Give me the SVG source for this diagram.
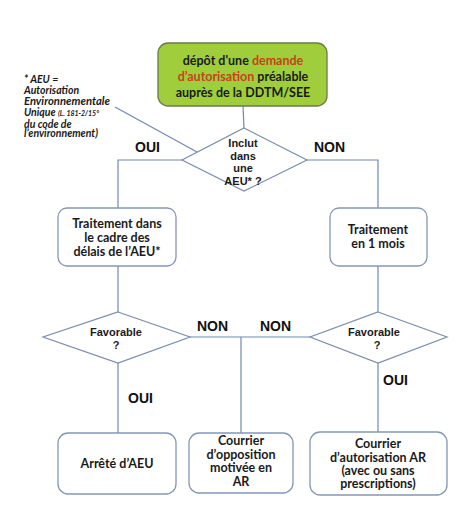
<svg xmlns="http://www.w3.org/2000/svg" width="474" height="523" viewBox="0 0 474 523">
<style>
.box{fill:#ffffff;stroke:#8496b8;stroke-width:1.3}
.dia{fill:#ffffff;stroke:#7b8dad;stroke-width:1.2}
.ln{fill:none;stroke:#7088b0;stroke-width:1.2}
.bt{font-family:Lato,"Open Sans","Liberation Sans",sans-serif;font-weight:bold;font-size:12.5px;fill:#1a1a1a;text-anchor:middle}
.dt{font-family:"Liberation Sans",Arial,sans-serif;font-weight:bold;font-size:11px;fill:#1a1a1a;text-anchor:middle}
.lb{font-family:"Liberation Sans",Arial,sans-serif;font-weight:bold;font-size:14px;fill:#111111}
.an{font-family:Lato,"Open Sans","Liberation Sans",sans-serif;font-weight:bold;font-style:italic;font-size:10.5px;fill:#1a1a1a}
.red{fill:#c8421c}
</style>
<rect width="474" height="523" fill="#ffffff"/>
<g id="connectors">
<line class="ln" x1="243" y1="106" x2="244" y2="128"/>
<line class="ln" x1="115" y1="107" x2="197" y2="152"/>
<polyline class="ln" points="182,160 118,160 118,208"/>
<polyline class="ln" points="307,160 378,160 378,208"/>
<line class="ln" x1="118" y1="266" x2="118" y2="312"/>
<line class="ln" x1="378" y1="266" x2="378" y2="312"/>
<line class="ln" x1="190" y1="337" x2="310" y2="337"/>
<line class="ln" x1="241" y1="337" x2="241" y2="433"/>
<line class="ln" x1="118" y1="363" x2="118" y2="433"/>
<line class="ln" x1="378" y1="363" x2="378" y2="432"/>
</g>
<g id="labels">
<text class="lb" x="135" y="152">OUI</text>
<text class="lb" x="314" y="152">NON</text>
<text class="lb" x="197" y="331">NON</text>
<text class="lb" x="260" y="331">NON</text>
<text class="lb" x="128" y="403">OUI</text>
<text class="lb" x="383" y="385">OUI</text>
</g>
<g id="note">
<text class="an" x="24" y="83">* AEU =</text>
<text class="an" x="24" y="94">Autorisation</text>
<text class="an" x="24" y="105" textLength="86" lengthAdjust="spacingAndGlyphs">Environnementale</text>
<text class="an" x="24" y="116">Unique <tspan font-size="7">(L. 181-2/15°</tspan></text>
<text class="an" x="24" y="127.5" font-size="7">du code de</text>
<text class="an" x="24" y="136.5" font-size="7">l’environnement)</text>
</g>
<g id="start">
<rect x="158" y="43" width="169" height="63" rx="10" fill="#9fcd3c" stroke="#6b7a4c" stroke-width="1.3"/>
<text class="bt" x="243" y="65" font-size="13.5">dépôt d'une <tspan class="red">demande</tspan></text>
<text class="bt" x="243" y="81" font-size="13.5"><tspan class="red">d’autorisation</tspan> préalable</text>
<text class="bt" x="243" y="97" font-size="13.5">auprès de la DDTM/SEE</text>
</g>
<g id="q-aeu">
<polygon class="dia" points="244,128 307,160 244,191 182,160"/>
<text class="dt" x="243" y="147">Inclut</text>
<text class="dt" x="243" y="159.5">dans</text>
<text class="dt" x="243" y="172">une</text>
<text class="dt" x="243" y="184.5">AEU* ?</text>
</g>
<g id="traitement-aeu">
<rect class="box" x="58" y="208" width="118" height="58" rx="9"/>
<text class="bt" x="117" y="228">Traitement dans</text>
<text class="bt" x="117" y="242">le cadre des</text>
<text class="bt" x="117" y="256">délais de l’AEU*</text>
</g>
<g id="traitement-1mois">
<rect class="box" x="330" y="208" width="97" height="58" rx="9"/>
<text class="bt" x="378" y="234">Traitement</text>
<text class="bt" x="378" y="248">en 1 mois</text>
</g>
<g id="q-fav-left">
<polygon class="dia" points="118,312 190,337 118,363 43,337"/>
<text class="dt" x="116" y="336">Favorable</text>
<text class="dt" x="116" y="349">?</text>
</g>
<g id="q-fav-right">
<polygon class="dia" points="378,312 447,337 378,363 310,337"/>
<text class="dt" x="374" y="336">Favorable</text>
<text class="dt" x="377" y="349">?</text>
</g>
<g id="arrete">
<rect class="box" x="58" y="433" width="118" height="61" rx="10"/>
<text class="bt" x="117" y="468" font-size="13">Arrêté d’AEU</text>
</g>
<g id="opposition">
<rect class="box" x="189" y="433" width="104" height="60" rx="10"/>
<text class="bt" x="241" y="445">Courrier</text>
<text class="bt" x="241" y="458.5">d’opposition</text>
<text class="bt" x="241" y="472">motivée en</text>
<text class="bt" x="241" y="485.5">AR</text>
</g>
<g id="autorisation">
<rect class="box" x="310" y="432" width="137" height="63" rx="10"/>
<text class="bt" x="378" y="448">Courrier</text>
<text class="bt" x="378" y="462">d’autorisation AR</text>
<text class="bt" x="378" y="474.5" font-size="9.5">(avec ou sans</text>
<text class="bt" x="378" y="487.5" font-size="9.5">prescriptions)</text>
</g>
</svg>
